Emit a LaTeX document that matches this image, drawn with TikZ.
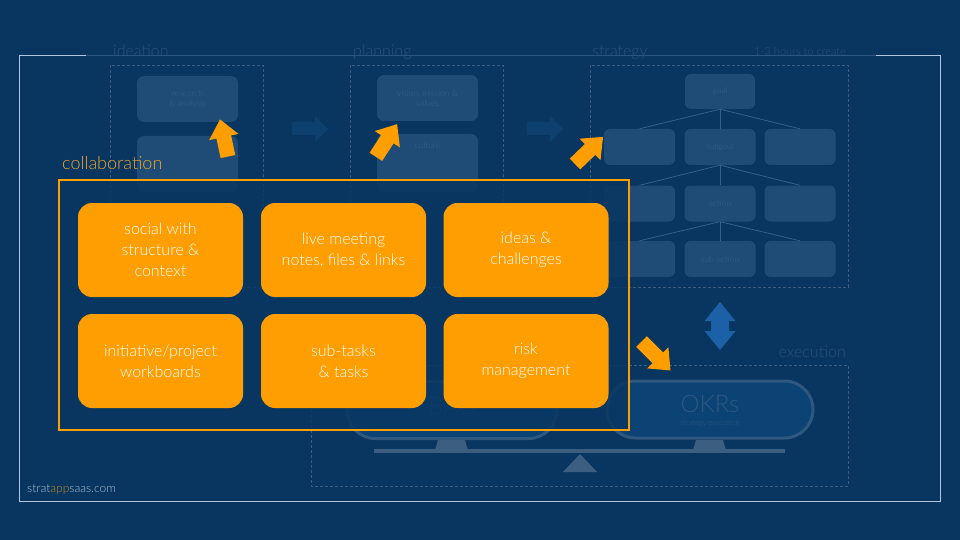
\documentclass[tikz,border=0pt]{standalone}
\usepackage{fontspec}
\setmainfont{Lato Light}
\usetikzlibrary{shapes.misc}

\definecolor{bg}{RGB}{8,54,96}
\definecolor{orangeA}{RGB}{255,158,0}
\definecolor{orangeL}{RGB}{238,164,40}
\definecolor{frameC}{RGB}{178,198,222}
\definecolor{frameDim}{RGB}{44,86,130}
\definecolor{dimBox}{RGB}{30,76,119}
\definecolor{dimText}{RGB}{55,98,140}
\definecolor{dimLabel}{RGB}{40,82,124}
\definecolor{dashC}{RGB}{62,92,124}
\definecolor{treeC}{RGB}{52,96,140}
\definecolor{flowC}{RGB}{13,64,110}
\definecolor{pillFill}{RGB}{11,67,116}
\definecolor{pillLine}{RGB}{46,88,128}
\definecolor{scaleC}{RGB}{60,94,128}
\definecolor{blueArrow}{RGB}{28,96,168}
\definecolor{logoC}{RGB}{172,190,210}
\definecolor{logoApp}{RGB}{196,136,34}

% block arrow centred at (#1,#2), pointing at angle #3, length #4
\newcommand{\blockarrow}[4]{%
  \begin{scope}[shift={(#1,#2)}, rotate=#3]
    \fill[orangeA] (-#4/2,-7.5) -- (#4/2-18,-7.5) -- (#4/2-18,-15) -- (#4/2,0)
      -- (#4/2-18,15) -- (#4/2-18,7.5) -- (-#4/2,7.5) -- cycle;
  \end{scope}}

\tikzset{
  stage/.style={draw=dashC, line width=0.6pt, dash pattern=on 3pt off 2pt},
  stagelabel/.style={anchor=base west, text=dimLabel, font=\fontsize{16}{18}\selectfont, inner sep=0pt},
  fadedbox/.style={fill=dimBox, rounded corners=7pt, text=dimText, align=center,
    font=\fontsize{8.5}{10}\selectfont, inner sep=0pt},
  treebox/.style={fadedbox, minimum width=71pt, minimum height=36pt, rounded corners=6pt},
  treeline/.style={draw=treeC, line width=0.8pt},
  collabbox/.style={fill=orangeA, rounded corners=14pt, minimum width=165pt, minimum height=94pt,
    text=white, align=center, font=\fontsize{16}{21}\selectfont, inner sep=0pt},
  pill/.style={rounded rectangle, draw=pillLine, line width=3pt, fill=pillFill,
    minimum height=57pt, inner sep=0pt},
}

\begin{document}
\begin{tikzpicture}[x=1pt,y=-1pt]
\fill[bg] (0,0) rectangle (960,540);
\useasboundingbox (0,0) rectangle (960,540);

% outer frame
\draw[frameC, line width=0.8pt] (86,55) -- (19,55) -- (19,501) -- (940,501) -- (940,55) -- (876,55);
\draw[frameDim, line width=0.8pt] (86,55) -- (876,55);

% stage frames and titles
\draw[stage] (110,65) rectangle (263,287);
\draw[stage] (350,65) rectangle (503,287);
\draw[stage] (590,65) rectangle (848,287);
\draw[stage] (311,365) rectangle (848,486);
\node[stagelabel] (lideation) at (113,57) {ideation};
\node[stagelabel] (lplanning) at (353,57) {planning};
\node[stagelabel] (lstrategy) at (592,57) {strategy};
\node[stagelabel, anchor=base east, font=\fontsize{11}{13}\selectfont] (ltime) at (846,56) {1-3 hours to create};
\node[stagelabel, anchor=base east] (lexecution) at (846,357) {execution};

% ideation and planning contents
\node[fadedbox, minimum width=101pt, minimum height=46pt] (research) at (187.5,99) {research\\\& analysis};
\node[fadedbox, minimum width=101pt, minimum height=56pt] (ideabox) at (187.5,164) {};
\node[fadedbox, minimum width=101pt, minimum height=46pt] (vision) at (427.5,98) {vision, mission \&\\values};
\node[fadedbox, minimum width=101pt, minimum height=58pt] (culture) at (427.5,163) {};
\node[text=dimText, font=\fontsize{8.5}{10}\selectfont] (culturetxt) at (427.5,145) {culture};

% flow arrows between stages
\fill[flowC] (292,122) -- (315,122) -- (315,116) -- (328,129) -- (315,142) -- (315,135) -- (292,135) -- cycle;
\fill[flowC] (527,122) -- (550,122) -- (550,116) -- (563,129) -- (550,142) -- (550,135) -- (527,135) -- cycle;

% strategy tree
\node[treebox, minimum width=70pt, minimum height=35pt] (goal) at (720,91.5) {goal};
\node[treebox] (s1) at (639.5,147) {};
\node[treebox] (s2) at (720,147) {subgoal};
\node[treebox] (s3) at (800,147) {};
\node[treebox] (a1) at (639.5,203.5) {};
\node[treebox] (a2) at (720,203.5) {action};
\node[treebox] (a3) at (800,203.5) {};
\node[treebox] (u1) at (639.5,259) {};
\node[treebox] (u2) at (720,259) {sub-action};
\node[treebox] (u3) at (800,259) {};
\foreach \p/\c in {goal/s1,goal/s2,goal/s3,s2/a1,s2/a2,s2/a3,a2/u1,a2/u2,a2/u3}
  \draw[treeline] (\p.south) -- (\c.north);

% execution balance
\node[pill, minimum width=210pt] (bau) at (452,410) {};
\node[text=pillLine, font=\fontsize{24}{26}\selectfont] (bautxt) at (452,406) {BAU};
\node[pill, minimum width=206pt] (okr) at (710,409.5) {};
\node[text=pillLine, font=\fontsize{24}{26}\selectfont] (okrtxt) at (710,404) {OKRs};
\node[text=pillLine, font=\fontsize{7.5}{9}\selectfont] (okrsub) at (710,423) {strategy execution};
\fill[scaleC] (438,440) -- (465,440) -- (468,450) -- (435,450) -- cycle;
\fill[scaleC] (696,440) -- (723,440) -- (726,450) -- (693,450) -- cycle;
\fill[scaleC] (374,449) rectangle (785,453);
\fill[scaleC] (580,454) -- (597,472) -- (563,472) -- cycle;

% strategy <-> execution
\fill[blueArrow] (720,302) -- (735.5,321) -- (729,321) -- (729,331) -- (735.5,331) -- (720,350)
  -- (704.5,331) -- (711,331) -- (711,321) -- (704.5,321) -- cycle;

% collaboration feeds into each stage
\blockarrow{224}{138}{102}{38}
\blockarrow{386.5}{140.5}{57}{39}
\blockarrow{589}{150.5}{44}{39}
\blockarrow{656}{356}{-45}{41}

% collaboration panel
\node[anchor=base west, inner sep=0pt, text=orangeL, font=\fontsize{18}{20}\selectfont] (lcollab) at (62,170) {collaboration};
\fill[bg, opacity=0.82] (59,180) rectangle (629,430);
\draw[orangeA, line width=2.8pt] (59,180) rectangle (629,430);
\node[collabbox] (social) at (160.5,250) {social with\\structure \&\\context};
\node[collabbox] (meeting) at (343.5,250) {live meeting\\notes, files \& links};
\node[collabbox] (ideas) at (526,250) {ideas \&\\challenges};
\node[collabbox] (workboards) at (160.5,361) {initiative/project\\workboards};
\node[collabbox] (tasks) at (343.5,361) {sub-tasks\\\& tasks};
\node[collabbox] (risk) at (526,361) {risk\\management};

% footer
\node[anchor=base west, inner sep=0pt, font=\fontsize{12}{14}\selectfont] (logo) at (27,492)
  {\textcolor{logoC}{strat}\textcolor{logoApp}{app}\textcolor{logoC}{saas.com}};
\end{tikzpicture}
\end{document}
